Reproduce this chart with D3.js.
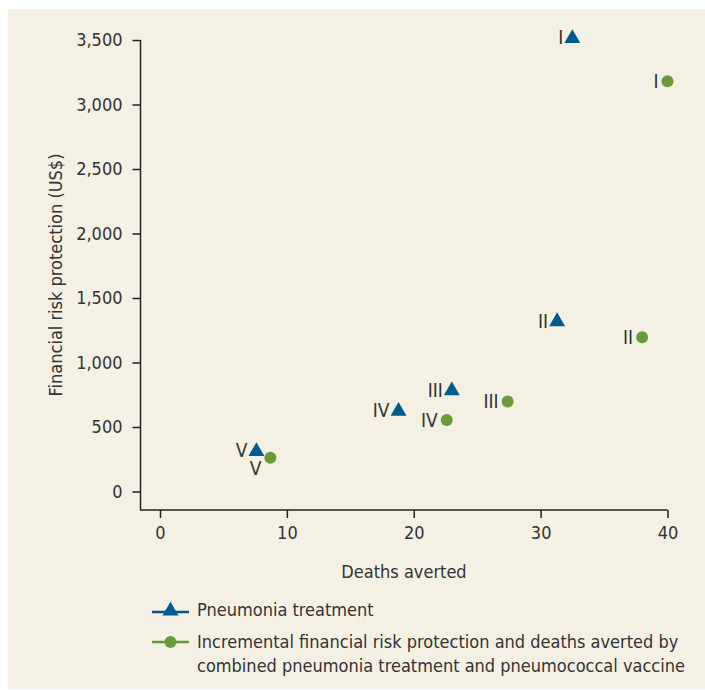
<!DOCTYPE html>
<html><head><meta charset="utf-8">
<script src="https://cdn.jsdelivr.net/npm/d3@7"></script>
<style>
html,body{margin:0;padding:0;background:#fff;}
text{font-family:"Liberation Sans Narrow","DejaVu Sans Condensed",sans-serif;fill:#333;}
</style></head><body>
<svg id="c" width="705" height="690"></svg>
<script>
const labels = ["I","II","III","IV","V"];
const treatX = [32.5, 31.3, 23.0, 18.8, 7.6];
const treatY = [3520, 1325, 790, 630, 318];
const comboX = [40.0, 38.0, 27.4, 22.6, 8.7];
const comboY = [3180, 1195, 698, 555, 262];
const xTicks = [0, 10, 20, 30, 40];
const yTicks = [0, 500, 1000, 1500, 2000, 2500, 3000, 3500];
const legendLabels = ["Pneumonia treatment",
  ["Incremental financial risk protection and deaths averted by","combined pneumonia treatment and pneumococcal vaccine"]];

const blue = "#005b8f", green = "#6b9a3c";
const svg = d3.select("#c");
svg.append("rect").attr("x",8).attr("y",9).attr("width",697).attr("height",680).attr("fill","#f4f0e3");

const x = d3.scaleLinear().domain([0,40]).range([160,667.5]);
const y = d3.scaleLinear().domain([0,3500]).range([491.5,40]);

const fmt = d3.format(",");
const xa = svg.append("g").attr("transform","translate(0,510)")
  .call(d3.axisBottom(x).tickValues(xTicks).tickSize(8).tickPadding(8).tickSizeOuter(0));
xa.select(".domain").attr("d","M140,0H667.5");
const ya = svg.append("g").attr("transform","translate(140.5,0)")
  .call(d3.axisLeft(y).tickValues(yTicks).tickFormat(fmt).tickSize(8).tickPadding(10).tickSizeOuter(0));
ya.select(".domain").attr("d","M0,40V510");
[xa,ya].forEach(a=>{
  a.selectAll("path,line").attr("stroke","#222").attr("stroke-width",1.5);
  a.selectAll("text").attr("font-size",18).attr("fill","#333")
   .style("font-family",'"Liberation Sans Narrow","DejaVu Sans Condensed",sans-serif');
});

svg.append("text").attr("x",404).attr("y",578).attr("text-anchor","middle").attr("font-size",18).text("Deaths averted");
svg.append("text").attr("transform","translate(62,275) rotate(-90)").attr("text-anchor","middle").attr("font-size",18).text("Financial risk protection (US$)");

const tri = d3.symbol().type(d3.symbolTriangle).size(110);
const treat = labels.map((l,i)=>({l, x:treatX[i], y:treatY[i]}));
const combo = labels.map((l,i)=>({l, x:comboX[i], y:comboY[i]}));

svg.append("g").selectAll("path").data(treat).join("path")
  .attr("d",tri).attr("fill",blue)
  .attr("transform",d=>`translate(${x(d.x)},${y(d.y)+1})`);
svg.append("g").selectAll("circle").data(combo).join("circle")
  .attr("r",6).attr("fill",green)
  .attr("cx",d=>x(d.x)).attr("cy",d=>y(d.y));

svg.append("g").selectAll("text").data(treat).join("text")
  .attr("x",d=>x(d.x)-9).attr("y",d=>y(d.y)+7)
  .attr("text-anchor","end").attr("font-size",19).text(d=>d.l);
svg.append("g").selectAll("text").data(combo).join("text")
  .attr("x",d=>d.l==="V" ? x(d.x)-9 : x(d.x)-9)
  .attr("y",d=>d.l==="V" ? y(d.y)+17 : y(d.y)+7)
  .attr("text-anchor","end").attr("font-size",19).text(d=>d.l);

// legend
const lg = svg.append("g");
lg.append("line").attr("x1",152).attr("x2",189).attr("y1",612).attr("y2",612).attr("stroke",blue).attr("stroke-width",2.5);
lg.append("path").attr("d",tri).attr("fill",blue).attr("transform","translate(170.5,611)");
lg.append("line").attr("x1",152).attr("x2",189).attr("y1",642).attr("y2",642).attr("stroke",green).attr("stroke-width",2.5);
lg.append("circle").attr("cx",170.5).attr("cy",642).attr("r",6).attr("fill",green);
lg.append("text").attr("x",197).attr("y",616).attr("font-size",18).text(legendLabels[0]);
lg.append("text").attr("x",197).attr("y",648).attr("font-size",18).text(legendLabels[1][0]);
lg.append("text").attr("x",197).attr("y",672).attr("font-size",18).text(legendLabels[1][1]);
</script></body></html>
